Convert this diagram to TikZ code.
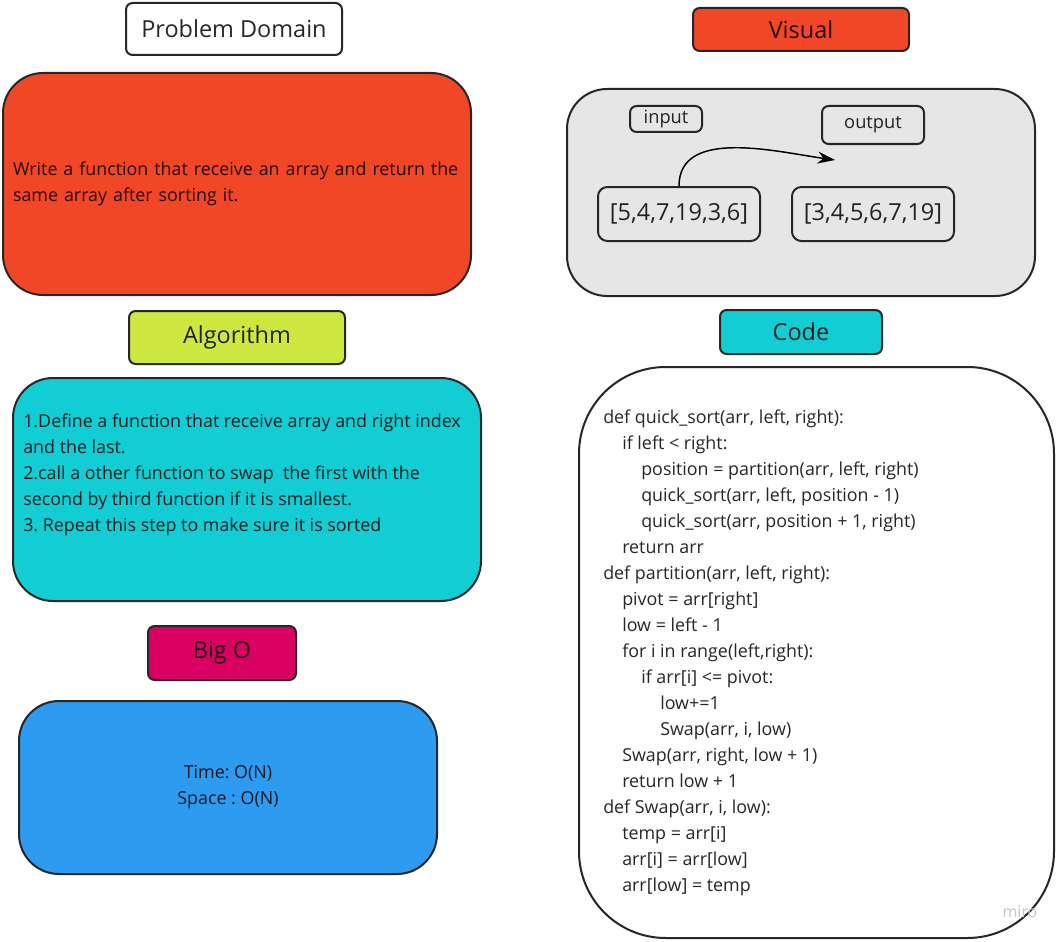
\documentclass[tikz,border=0pt]{standalone}
\usepackage{fontspec}
\setmainfont{Open Sans}
\frenchspacing
\usetikzlibrary{positioning,arrows.meta}
\tikzset{
	>={Stealth[length=13pt,width=9pt]},
	card/.style={draw=black!85, line width=1.5pt, rounded corners=30pt, text=black, text opacity=0.85},
	tag/.style={draw=black!85, line width=1.5pt, rounded corners=5pt, text=black, text opacity=0.85,
		font=\fontsize{17.6}{21}\selectfont, inner sep=0pt},
	body/.style={font=\fontsize{13.4}{19.5}\selectfont, text=black, text opacity=0.85},
}
\definecolor{redorange}{HTML}{F24726}
\definecolor{lime}{HTML}{CEE741}
\definecolor{cyan}{HTML}{12CDD4}
\definecolor{magenta}{HTML}{DA0063}
\definecolor{skyblue}{HTML}{2D9BF0}
\definecolor{lightgray}{HTML}{E6E6E6}

\begin{document}
\begin{tikzpicture}[x=0.75pt, y=-0.75pt]
		\useasboundingbox (0,0) rectangle (1061,942);

		% left column
		\node[tag, fill=white, minimum width=162pt, minimum height=39pt] (domtitle) at (234,29) {Problem Domain};
		\node[card, fill=redorange, body, minimum height=166.5pt, text width=336pt, inner xsep=7.5pt, align=left] (probbox) at (237,184)
			{Write a function that receive an array and return the\\same array after sorting it.};

		\node[tag, fill=lime, minimum width=162pt, minimum height=39.75pt] (algtitle) at (237,337.5) {Algorithm};
		\node[card, fill=cyan, minimum width=351pt, minimum height=167.25pt] (algbox) at (247,489.5) {};
		\node[body, anchor=north west, inner sep=0pt, align=left] (algtext) at (23,414)
			{1.Define a function that receive array and right index\\
			and the last.\\
			2.call a other function to swap\ \ the first with the\\
			second by third function if it is smallest.\\
			3. Repeat this step to make sure it is sorted};

		\node[tag, fill=magenta, minimum width=111pt, minimum height=40.5pt] (bigotitle) at (222,653) {Big O};
		\node[card, fill=skyblue, body, minimum width=313.5pt, minimum height=129.75pt, align=center] (bigobox) at (228,787.5)
			{Time: O(N)\\Space : O(N)};

		% right column
		\node[tag, fill=redorange, minimum width=162pt, minimum height=32.25pt] (vistitle) at (801,29.5) {Visual};
		\node[card, fill=lightgray, minimum width=351pt, minimum height=155.25pt] (visbox) at (801,192.5) {};
		\node[tag, fill=lightgray, font=\fontsize{13.7}{16}\selectfont, minimum width=54pt, minimum height=19.5pt] (inlbl) at (666,119) {input};
		\node[tag, fill=lightgray, font=\fontsize{13.7}{16}\selectfont, minimum width=76.5pt, minimum height=28.5pt] (outlbl) at (873,125) {output};
		\node[tag, fill=lightgray, rounded corners=7pt, minimum width=121.5pt, minimum height=40.5pt] (arrin) at (679,214) {[5,4,7,19,3,6]};
		\node[tag, fill=lightgray, rounded corners=7pt, minimum width=121.5pt, minimum height=40.5pt] (arrout) at (873,214) {[3,4,5,6,7,19]};
		\coordinate (arrtip) at (835,160);
		\draw[->, line width=1.1pt] (arrin.north) to[out=90, in=172, looseness=0.95] (arrtip);

		\node[tag, fill=cyan, minimum width=121.5pt, minimum height=33pt] (codetitle) at (801,332) {Code};
		\node[card, fill=white, rounded corners=65pt, minimum width=356.25pt, minimum height=428.25pt] (codebox) at (816.5,652.5) {};
		\node[body, anchor=north west, inner sep=0pt, align=left] (codetext) at (603,410)
			{def quick\_sort(arr, left, right):\\
			\hspace*{14.25pt}if left < right:\\
			\hspace*{28.5pt}position = partition(arr, left, right)\\
			\hspace*{28.5pt}quick\_sort(arr, left, position - 1)\\
			\hspace*{28.5pt}quick\_sort(arr, position + 1, right)\\
			\hspace*{14.25pt}return arr\\
			def partition(arr, left, right):\\
			\hspace*{14.25pt}pivot = arr[right]\\
			\hspace*{14.25pt}low = left - 1\\
			\hspace*{14.25pt}for i in range(left,right):\\
			\hspace*{28.5pt}if arr[i] <= pivot:\\
			\hspace*{42.75pt}low+=1\\
			\hspace*{42.75pt}Swap(arr, i, low)\\
			\hspace*{14.25pt}Swap(arr, right, low + 1)\\
			\hspace*{14.25pt}return low + 1\\
			def Swap(arr, i, low):\\
			\hspace*{14.25pt}temp = arr[i]\\
			\hspace*{14.25pt}arr[i] = arr[low]\\
			\hspace*{14.25pt}arr[low] = temp};

		\node[text=black!22, font=\fontsize{12}{14}\selectfont] (miro) at (1020,912) {miro};
	\end{tikzpicture}
\end{document}
